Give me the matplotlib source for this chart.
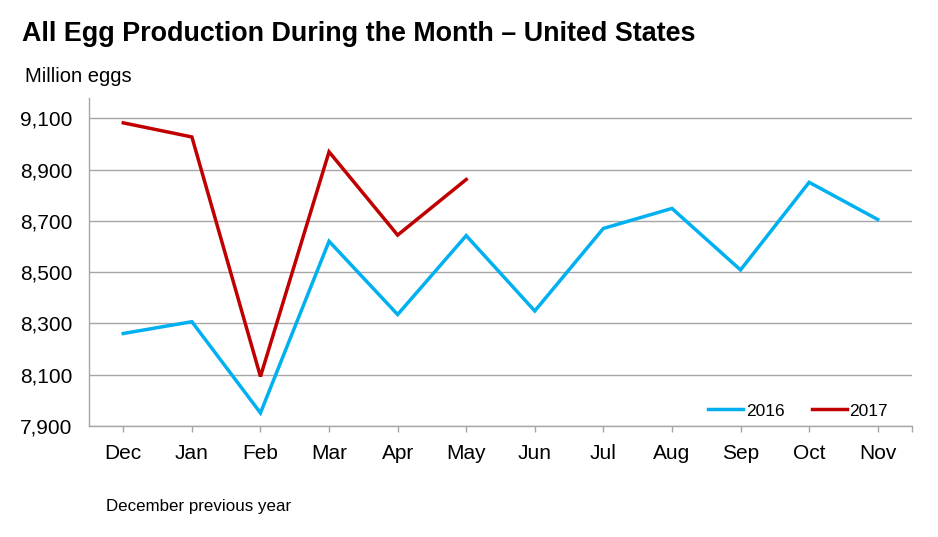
import matplotlib
matplotlib.use("Agg")
import matplotlib.pyplot as plt
from matplotlib.lines import Line2D

plt.rcParams['font.family'] = ['Liberation Sans', 'DejaVu Sans']

months = ["Dec", "Jan", "Feb", "Mar", "Apr", "May", "Jun", "Jul", "Aug", "Sep", "Oct", "Nov"]
eggs_2016 = [8261, 8307, 7951, 8621, 8335, 8643, 8349, 8671, 8749, 8509, 8851, 8706]
eggs_2017 = [9083, 9028, 8093, 8970, 8645, 8862]
yticks = [7900, 8100, 8300, 8500, 8700, 8900, 9100]

blue = "#00B0F0"
red = "#C00000"
grey = "#A6A6A6"

fig = plt.figure(figsize=(9.38, 5.37), dpi=100)
ax = fig.add_axes([89 / 938, 1 - 426 / 537, (912 - 89) / 938, (426 - 98) / 537])

x16 = range(len(eggs_2016))
x17 = range(len(eggs_2017))
ax.plot(x16, eggs_2016, color=blue, lw=2.5, solid_joinstyle="miter", label="2016")
ax.plot(x17, eggs_2017, color=red, lw=2.5, solid_joinstyle="miter", label="2017")

ax.set_xlim(-0.5, len(months) - 0.5)
ax.set_ylim(7900, 9180)
ax.set_yticks(yticks)
ax.set_yticklabels(["{:,}".format(v) for v in yticks])
ax.set_xticks(range(len(months)))
ax.set_xticklabels(months)
ax.set_xticks([len(months) - 0.5], minor=True)

ax.grid(axis="y", color=grey, lw=1)
ax.set_axisbelow(True)
for s in ["top", "right"]:
    ax.spines[s].set_visible(False)
for s in ["left", "bottom"]:
    ax.spines[s].set_color(grey)
    ax.spines[s].set_linewidth(1)

ax.tick_params(axis="y", length=0, pad=12, labelsize=15, colors="#000000")
ax.tick_params(axis="x", which="both", length=4, width=1, color=grey, pad=9, labelsize=15)

handles = [Line2D([], [], color=blue, lw=2.5), Line2D([], [], color=red, lw=2.5)]
ax.legend(handles, ["2016", "2017"], loc="lower right", bbox_to_anchor=(0.99, -0.025),
          ncol=2, frameon=False, fontsize=12.5, handlelength=2.0, handletextpad=0.15,
          columnspacing=1.6)

fig.text(22 / 938, 1 - 34 / 537, "All Egg Production During the Month \u2013 United States",
         fontsize=19.4, fontweight="bold", va="center", ha="left")
fig.text(25 / 938, 1 - 77 / 537, "Million eggs", fontsize=14.5, va="center", ha="left")
fig.text(106 / 938, 1 - 507 / 537, "December previous year", fontsize=12.2, va="center", ha="left")

fig.savefig("out.png", dpi=100)
